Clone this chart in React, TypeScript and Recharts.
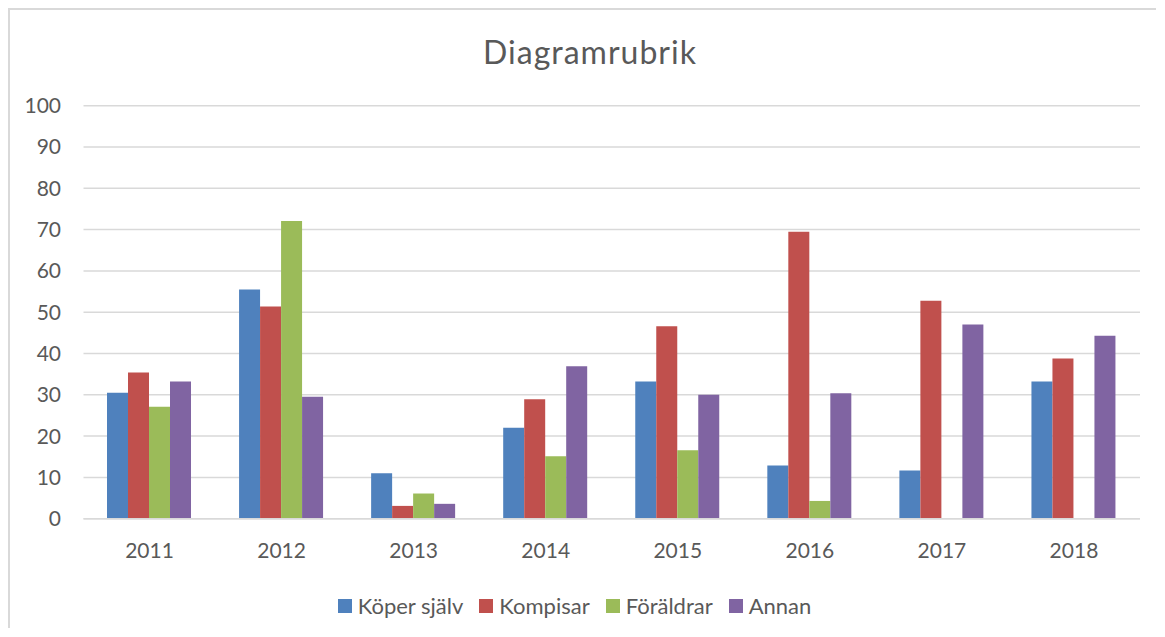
import React from "react";
import { BarChart, Bar, XAxis, YAxis, CartesianGrid, Legend } from "recharts";

const years = ["2011", "2012", "2013", "2014", "2015", "2016", "2017", "2018"];
const koperSjalv = [30.5, 55.5, 11.0, 22.0, 33.2, 12.9, 11.7, 33.2];
const kompisar = [35.4, 51.4, 3.1, 28.9, 46.6, 69.5, 52.8, 38.8];
const foraldrar = [27.1, 72.1, 6.1, 15.1, 16.6, 4.3, 0, 0];
const annan = [33.2, 29.5, 3.6, 36.9, 30.0, 30.4, 47.0, 44.3];
const yTicks = [0, 10, 20, 30, 40, 50, 60, 70, 80, 90, 100];

const seriesNames = ["Köper själv", "Kompisar", "Föräldrar", "Annan"];
const seriesKeys = ["koper", "kompisar", "foraldrar", "annan"];
const seriesColors = ["#4f81bd", "#c0504d", "#9bbb59", "#8064a2"];

const data = years.map((y, i) => ({
  year: y,
  koper: koperSjalv[i],
  kompisar: kompisar[i],
  foraldrar: foraldrar[i],
  annan: annan[i],
}));

const FONT = "Lato, 'Open Sans', sans-serif";
const TEXT = "#595959";

const renderLegend = () => {
  return (
    <div
      style={{
        display: "flex",
        justifyContent: "center",
        alignItems: "center",
        fontFamily: FONT,
        fontSize: 22,
        color: TEXT,
        height: 40,
      }}
    >
      {seriesNames.map((name, i) => (
        <div
          key={name}
          style={{ display: "flex", alignItems: "center", marginRight: i < seriesNames.length - 1 ? 16 : 0 }}
        >
          <span
            style={{ display: "inline-block", width: 14, height: 14, background: seriesColors[i], marginRight: 6 }}
          />
          <span>{name}</span>
        </div>
      ))}
    </div>
  );
};

export default function App() {
  return (
    <div style={{ position: "relative", width: 1148, height: 620, background: "#fff", overflow: "hidden" }}>
      <div
        style={{
          position: "absolute",
          left: 0,
          top: 0,
          width: 1148,
          height: 620,
          borderLeft: "2px solid #d9d9d9",
          borderTop: "2px solid #d9d9d9",
          boxSizing: "border-box",
          pointerEvents: "none",
          zIndex: 5,
        }}
      />
      <div
        style={{
          position: "absolute",
          left: 0,
          top: 24,
          width: 1148,
          marginLeft: 8,
          textAlign: "center",
          fontFamily: FONT,
          fontSize: 32,
          letterSpacing: 1,
          color: TEXT,
          lineHeight: "40px",
        }}
      >
        Diagramrubrik
      </div>
      <BarChart
        width={1148}
        height={620}
        data={data}
        margin={{ top: 97.7, right: 16, left: 0, bottom: 2.5 }}
        barCategoryGap="17.8%"
        barGap={0}
      >
        <CartesianGrid vertical={false} stroke="#d9d9d9" strokeWidth={1.5} />
        <XAxis
          dataKey="year"
          height={66.8}
          tickLine={false}
          tickSize={0}
          tickMargin={24}
          axisLine={{ stroke: "#d9d9d9", strokeWidth: 1.5 }}
          tick={{ fill: TEXT, fontSize: 21, fontFamily: FONT }}
        />
        <YAxis
          width={75.5}
          domain={[0, 100]}
          ticks={yTicks}
          interval={0}
          axisLine={false}
          tickLine={false}
          tickSize={0}
          tickMargin={22.5}
          tick={{ fill: TEXT, fontSize: 21, fontFamily: FONT }}
        />
        <Legend
          verticalAlign="bottom"
          height={40}
          content={renderLegend}
          wrapperStyle={{ left: 0, width: 1133 }}
        />
        {seriesKeys.map((k, i) => (
          <Bar key={k} dataKey={k} name={seriesNames[i]} fill={seriesColors[i]} isAnimationActive={false} />
        ))}
      </BarChart>
    </div>
  );
}
